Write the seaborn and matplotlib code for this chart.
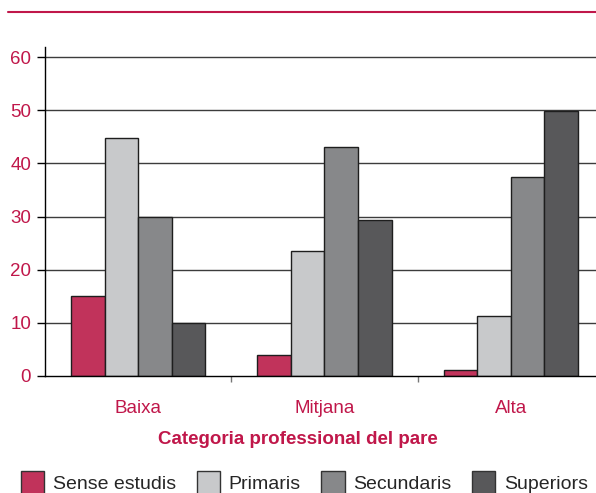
import pandas as pd
import matplotlib.pyplot as plt
import matplotlib.patches as mpatches
import matplotlib.lines as mlines
import seaborn as sns

# --- DATA ---
categories = ["Baixa", "Mitjana", "Alta"]
levels = ["Sense estudis", "Primaris", "Secundaris", "Superiors"]
sense_estudis = [15, 4, 1.2]
primaris = [44.8, 23.5, 11.3]
secundaris = [30, 43, 37.4]
superiors = [10, 29.4, 49.8]
y_ticks = [0, 10, 20, 30, 40, 50, 60]

CRIMSON = "#c0174a"
colors = ["#c1335b", "#c8c9cb", "#87888a", "#58585a"]

rows = []
for lvl, vals in zip(levels, [sense_estudis, primaris, secundaris, superiors]):
    for cat, v in zip(categories, vals):
        rows.append({"cat": cat, "level": lvl, "value": v})
df = pd.DataFrame(rows)

sns.set_theme(style="white")
plt.rcParams['font.family'] = ['Liberation Sans', 'DejaVu Sans']

fig = plt.figure(figsize=(5.96, 4.93), dpi=100)
ax = fig.add_axes([45 / 596, 1 - 376 / 493, (604 - 45) / 596, (376 - 47) / 493])

# grid lines behind bars
for t in y_ticks[1:]:
    ax.axhline(t, color="#3c3c3c", lw=1.0, zorder=0)

sns.barplot(data=df, x="cat", y="value", hue="level", order=categories,
            hue_order=levels, palette=colors, saturation=1, width=0.72,
            edgecolor="#1e1e1e", linewidth=1.0, legend=False, ax=ax, zorder=2)

ax.set_xlim(-0.5, 2.5)
ax.set_ylim(0, 61.9)
ax.set_yticks(y_ticks)
ax.set_xlabel("")
ax.set_ylabel("")

for s in ["top", "right"]:
    ax.spines[s].set_visible(False)
for s in ["left", "bottom"]:
    ax.spines[s].set_color("black")
    ax.spines[s].set_linewidth(1.0)

ax.tick_params(axis="y", which="major", left=True, length=6, width=1,
               color="black", labelcolor=CRIMSON, labelsize=13.5, pad=4)
ax.tick_params(axis="x", which="major", bottom=False, labelcolor=CRIMSON,
               labelsize=13.5, pad=11)
ax.set_xticks([0.5, 1.5], minor=True)
ax.tick_params(axis="x", which="minor", bottom=True, length=4, width=1,
               color="#777777")

fig.text(298 / 596, 1 - 440 / 493, "Categoria professional del pare",
         ha="center", va="center", color=CRIMSON, fontsize=13.5,
         fontweight="bold")

# top rule
fig.add_artist(mlines.Line2D([8 / 596, 1.0], [1 - 12 / 493, 1 - 12 / 493],
                             color=CRIMSON, lw=1.5))

handles = [mpatches.Patch(facecolor=c, edgecolor="#333333", lw=1.0, label=l)
           for c, l in zip(colors, levels)]
fig.legend(handles=handles, loc="center left", bbox_to_anchor=(21 / 596, 1 - 483 / 493),
           ncol=4, frameon=False, fontsize=14, handlelength=1.2,
           handleheight=1.45, handletextpad=0.45, columnspacing=1.05,
           borderaxespad=0, borderpad=0)

fig.savefig("out.png", dpi=100)
